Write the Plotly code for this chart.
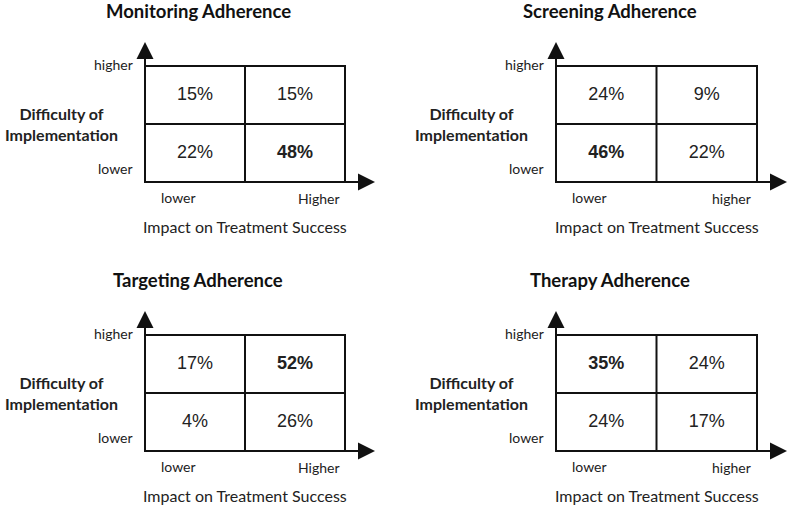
import plotly.graph_objects as go

W, H = 787, 506

titles = ["Monitoring Adherence", "Screening Adherence",
          "Targeting Adherence", "Therapy Adherence"]
# cell values: top-left, top-right, bottom-left, bottom-right
monitoring = [15, 15, 22, 48]
screening = [24, 9, 46, 22]
targeting = [17, 52, 4, 26]
therapy = [35, 24, 24, 17]
values = [monitoring, screening, targeting, therapy]
x_high_labels = ["Higher", "higher", "Higher", "higher"]
y_title = "Difficulty of<br>Implementation"
x_title = "Impact on Treatment Success"

cell_x = [0.5, 1.5, 0.5, 1.5]
cell_y = [1.5, 1.5, 0.5, 0.5]

# pixel geometry of each box: left, right, top, bottom ; quadrant
boxes = [(145, 345, 66, 182), (556, 757, 66, 182),
         (145, 345, 335, 451), (556, 757, 335, 451)]
quads = [(0, 395, 0, 253), (395, 787, 0, 253),
         (0, 395, 253, 506), (395, 787, 253, 506)]

TITLE_FONT = dict(family="Lato", size=18.5, color="#111")
LAB_FONT = dict(family="Lato", size=14, color="#222")
AX_FONT = dict(family="Lato", size=16, color="#222")
CELL_FONT = dict(family="Liberation Sans", size=18, color="#222")

fig = go.Figure()
annotations = []
shapes = []

for i in range(4):
    bx0, bx1, by0, by1 = boxes[i]
    qx0, qx1, qy0, qy1 = quads[i]
    sx = (bx1 - bx0) / 2
    sy = (by1 - by0) / 2
    xr = [(qx0 - bx0) / sx, (qx1 - bx0) / sx]
    yr = [(by1 - qy1) / sy, (by1 - qy0) / sy]
    xa = "x" if i == 0 else f"x{i + 1}"
    ya = "y" if i == 0 else f"y{i + 1}"
    axis_kw = dict(visible=False, showgrid=False, zeroline=False, fixedrange=True)
    fig.update_layout(**{
        ("xaxis" if i == 0 else f"xaxis{i + 1}"): dict(
            domain=[qx0 / W, qx1 / W], range=xr, anchor=ya, **axis_kw),
        ("yaxis" if i == 0 else f"yaxis{i + 1}"): dict(
            domain=[1 - qy1 / H, 1 - qy0 / H], range=yr, anchor=xa, **axis_kw),
    })

    def px(dx):
        return dx / sx

    def py(dy):
        return dy / sy

    vals = values[i]
    vmax = max(vals)
    txt = [f"<b>{v}%</b>" if v == vmax else f"{v}%" for v in vals]
    fig.add_trace(go.Scatter(
        x=cell_x, y=cell_y, text=txt, mode="text", xaxis=xa, yaxis=ya,
        textfont=CELL_FONT, showlegend=False, hoverinfo="skip"))

    line = dict(color="#111", width=2)
    shapes.append(dict(type="rect", xref=xa, yref=ya, x0=0, x1=2, y0=0, y1=2, line=line))
    shapes.append(dict(type="line", xref=xa, yref=ya, x0=1, x1=1, y0=0, y1=2, line=line))
    shapes.append(dict(type="line", xref=xa, yref=ya, x0=0, x1=2, y0=1, y1=1, line=line))

    arr = dict(xref=xa, yref=ya, axref=xa, ayref=ya, showarrow=True, text="",
               arrowhead=2, arrowsize=1.7, arrowwidth=2, arrowcolor="#111")
    annotations.append(dict(x=0, y=2 + py(24), ax=0, ay=0, **arr))
    annotations.append(dict(x=2 + px(30), y=0, ax=0, ay=0, **arr))

    def lab(x, y, text, font, xanchor="center", align="center"):
        annotations.append(dict(xref=xa, yref=ya, x=x, y=y, text=text, font=font,
                                showarrow=False, xanchor=xanchor, yanchor="middle",
                                align=align))

    lab(1 - px(47), 2 + py(55), f"<b>{titles[i]}</b>", TITLE_FONT)
    lab(-px(84), 1, f"<b>{y_title}</b>", dict(LAB_FONT, size=16))
    lab(-px(10), 2 + py(2), "higher", LAB_FONT, xanchor="right")
    lab(-px(10), py(14), "lower", LAB_FONT, xanchor="right")
    lab(px(33), -py(15), "lower", LAB_FONT)
    lab(2 - px(26), -py(16), x_high_labels[i], LAB_FONT)
    lab(1, -py(44), x_title, AX_FONT)

fig.update_layout(
    width=W, height=H, margin=dict(l=0, r=0, t=0, b=0),
    paper_bgcolor="white", plot_bgcolor="white",
    shapes=shapes, annotations=annotations, showlegend=False)

fig.write_html("out.html", config={"displayModeBar": False},
               post_script="document.body.style.margin='0';")
